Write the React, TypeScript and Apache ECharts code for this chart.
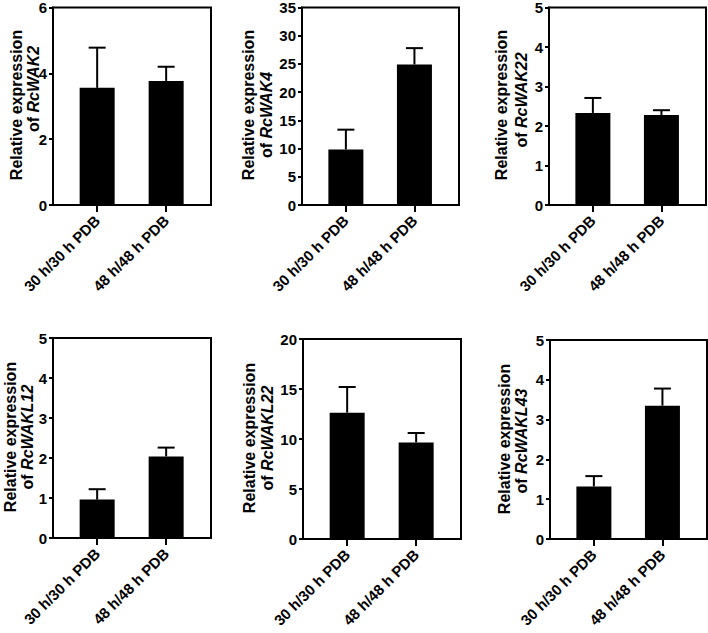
import React, { useEffect, useRef } from "react";
import * as echarts from "echarts";

const categories = ["30 h/30 h PDB", "48 h/48 h PDB"];
const genes = ["RcWAK2", "RcWAK4", "RcWAK22", "RcWAKL12", "RcWAKL22", "RcWAKL43"];
const wak2Mean = [3.56, 3.77];
const wak2Err = [1.22, 0.43];
const wak4Mean = [9.85, 24.9];
const wak4Err = [3.5, 2.9];
const wak22Mean = [2.33, 2.28];
const wak22Err = [0.38, 0.12];
const wakl12Mean = [0.96, 2.04];
const wakl12Err = [0.26, 0.22];
const wakl22Mean = [12.63, 9.66];
const wakl22Err = [2.57, 0.94];
const wakl43Mean = [1.32, 3.35];
const wakl43Err = [0.26, 0.43];
const yMaxes = [6, 35, 5, 5, 20, 5];
const yIntervals = [2, 5, 1, 1, 5, 1];

const means = [wak2Mean, wak4Mean, wak22Mean, wakl12Mean, wakl22Mean, wakl43Mean];
const errs = [wak2Err, wak4Err, wak22Err, wakl12Err, wakl22Err, wakl43Err];

const FONT = '"Liberation Sans", Arial, Helvetica, sans-serif';

const grids = [
  { left: 53, top: 5, width: 158, height: 200 },
  { left: 302, top: 5, width: 157, height: 200 },
  { left: 549, top: 5, width: 157, height: 200 },
  { left: 53, top: 338, width: 158, height: 200 },
  { left: 303, top: 339, width: 158, height: 200 },
  { left: 550, top: 340, width: 157, height: 199 },
];

const titlePos = [
  [[16, 105], [33, 89]],
  [[248, 105], [266, 115]],
  [[501, 105], [521, 100]],
  [[10, 437], [27, 437]],
  [[249, 438], [267, 438]],
  [[504, 439], [521, 441]],
];

export default function App() {
  const ref = useRef<HTMLDivElement>(null);
  useEffect(() => {
    if (!ref.current) return;
    const chart = echarts.init(ref.current, null, { renderer: "svg" });
    const xAxis: any[] = [];
    const yAxis: any[] = [];
    const series: any[] = [];
    const graphic: any[] = [];
    grids.forEach((g, i) => {
      xAxis.push({
        type: "value",
        gridIndex: i,
        min: -0.64,
        max: 1.65,
        axisLine: { show: true, onZero: false, lineStyle: { color: "#000", width: 2 } },
        axisTick: { show: true, customValues: [0, 1], length: 7, lineStyle: { color: "#000", width: 2 } },
        axisLabel: {
          show: true,
          customValues: [0, 1],
          rotate: 45,
          margin: 13,
          formatter: (v: number) => categories[Math.round(v)] ?? "",
          color: "#000",
          fontWeight: "bold",
          fontSize: 15,
          fontFamily: FONT,
        },
        splitLine: { show: false },
      });
      yAxis.push({
        type: "value",
        gridIndex: i,
        min: 0,
        max: yMaxes[i],
        interval: yIntervals[i],
        axisLine: { show: true, onZero: false, lineStyle: { color: "#000", width: 2 } },
        axisTick: { show: true, length: 4, lineStyle: { color: "#000", width: 2 } },
        axisLabel: {
          color: "#000",
          fontWeight: "bold",
          fontSize: 15,
          fontFamily: FONT,
          margin: 6,
        },
        splitLine: { show: false },
      });
      series.push({
        type: "bar",
        xAxisIndex: i,
        yAxisIndex: i,
        barWidth: 35,
        itemStyle: { color: "#000" },
        data: means[i].map((m, k) => [k, m]),
        z: 2,
      });
      series.push({
        type: "custom",
        xAxisIndex: i,
        yAxisIndex: i,
        z: 3,
        data: means[i].map((m, k) => [k, m, m + errs[i][k]]),
        renderItem: (params: any, api: any) => {
          const x = api.value(0);
          const p0 = api.coord([x, api.value(1)]);
          const p1 = api.coord([x, api.value(2)]);
          const cap = 8.5;
          return {
            type: "group",
            children: [
              { type: "line", shape: { x1: p0[0], y1: p0[1], x2: p1[0], y2: p1[1] }, style: { stroke: "#000", lineWidth: 2 } },
              { type: "line", shape: { x1: p1[0] - cap, y1: p1[1], x2: p1[0] + cap, y2: p1[1] }, style: { stroke: "#000", lineWidth: 2 } },
            ],
          };
        },
      });
      const [l1, l2] = titlePos[i];
      graphic.push({
        type: "text",
        x: l1[0],
        y: l1[1],
        rotation: Math.PI / 2,
        style: {
          text: "Relative expression",
          fill: "#000",
          fontSize: 16,
          fontWeight: "bold",
          fontFamily: FONT,
          align: "center",
          verticalAlign: "middle",
        },
      });
      graphic.push({
        type: "text",
        x: l2[0],
        y: l2[1],
        rotation: Math.PI / 2,
        style: {
          text: "of {i|" + genes[i] + "}",
          fill: "#000",
          fontSize: 16,
          fontWeight: "bold",
          fontFamily: FONT,
          align: "center",
          verticalAlign: "middle",
          rich: {
            i: { fontStyle: "italic", fontWeight: "bold", fontSize: 16, fontFamily: FONT, fill: "#000" },
          },
        },
      });
    });
    chart.setOption({
      animation: false,
      backgroundColor: "#fff",
      grid: grids.map((g) => ({ ...g, show: true, borderColor: "#000", borderWidth: 2, backgroundColor: "transparent", containLabel: false })),
      xAxis,
      yAxis,
      series,
      graphic,
    });
    return () => chart.dispose();
  }, []);
  return <div ref={ref} style={{ position: "fixed", left: 0, top: 0, width: 708, height: 633, background: "#fff" }} />;
}
